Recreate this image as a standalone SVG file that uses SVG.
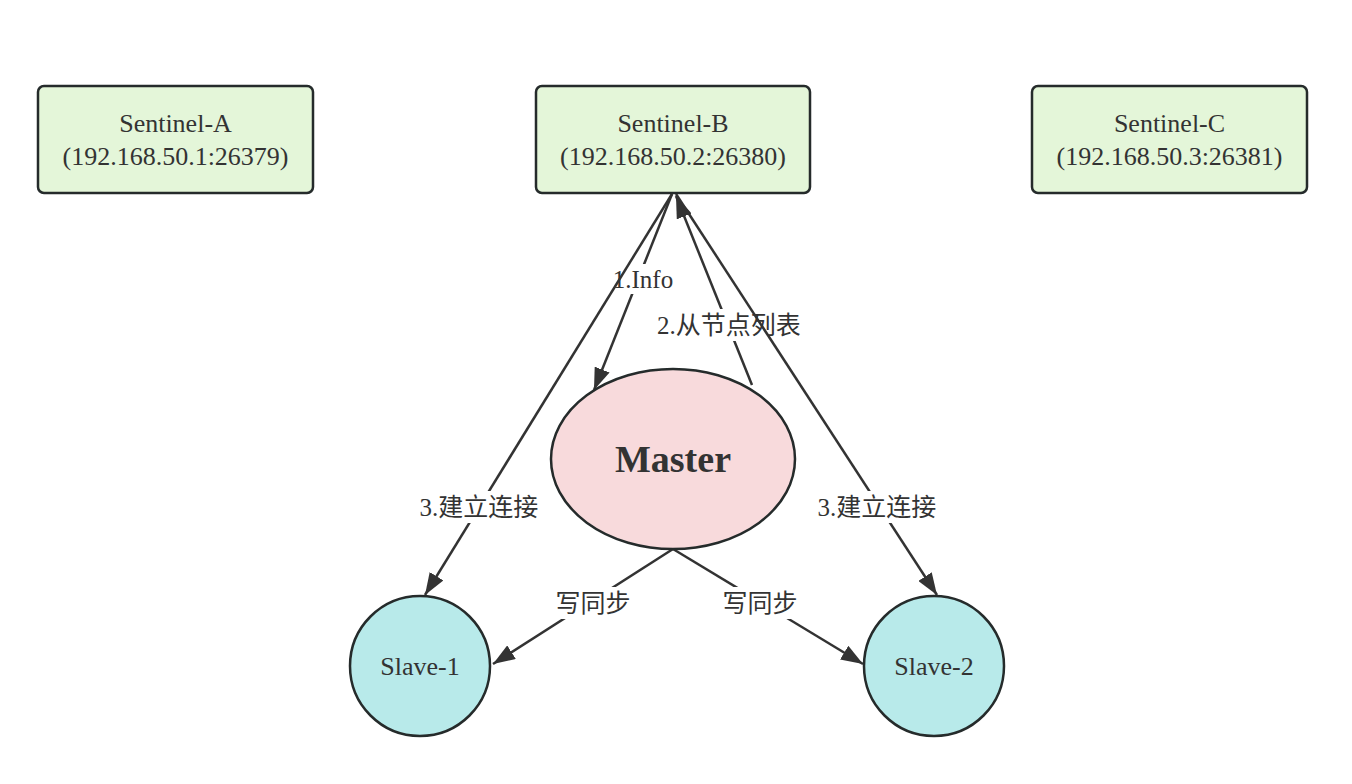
<svg xmlns="http://www.w3.org/2000/svg" width="1352" height="784" viewBox="0 0 1352 784">
<style>
.box{fill:#e4f6d9;stroke:#252b2b;stroke-width:2.5}
.master{fill:#f8dadc;stroke:#252b2b;stroke-width:2.5}
.slave{fill:#b8eaea;stroke:#252b2b;stroke-width:2.5}
.t{font-family:"Liberation Serif","Noto Sans CJK SC",serif;font-size:26px;fill:#333;text-anchor:middle}
.mt{font-family:"Liberation Serif",serif;font-size:38px;font-weight:bold;fill:#333;text-anchor:middle}
.e{stroke:#333;stroke-width:2.5;fill:none;marker-end:url(#arr)}
.lb{fill:#fff}
.lt{font-family:"Liberation Serif","Noto Sans CJK SC",serif;font-size:25px;fill:#333;text-anchor:middle}
</style>
<defs>
<marker id="arr" markerUnits="userSpaceOnUse" markerWidth="22" markerHeight="16" refX="22" refY="8" orient="auto">
<path d="M0,0 L22,8 L0,16 z" fill="#333"/>
</marker>
</defs>
<rect width="1352" height="784" fill="#fff"/>
<g id="connectors">
<g id="e1">
<line class="e" x1="672" y1="194" x2="594" y2="390"/>
<rect class="lb" x="612" y="264" width="62" height="30"/>
<text class="lt" x="643" y="288">1.Info</text>
</g>
<g id="e2">
<line class="e" x1="752" y1="385" x2="676" y2="196"/>
<rect class="lb" x="654" y="309" width="150" height="32"/>
<text class="lt" x="729" y="334">2.从节点列表</text>
</g>
<g id="e3">
<line class="e" x1="672" y1="194" x2="425" y2="595"/>
<rect class="lb" x="416" y="491" width="126" height="32"/>
<text class="lt" x="479" y="516">3.建立连接</text>
</g>
<g id="e4">
<line class="e" x1="676" y1="194" x2="937" y2="595"/>
<rect class="lb" x="814" y="491" width="126" height="32"/>
<text class="lt" x="877" y="516">3.建立连接</text>
</g>
<g id="e5">
<line class="e" x1="673" y1="549" x2="493" y2="664"/>
<rect class="lb" x="554" y="587" width="78" height="32"/>
<text class="lt" x="593" y="612">写同步</text>
</g>
<g id="e6">
<line class="e" x1="673" y1="549" x2="863" y2="664"/>
<rect class="lb" x="721" y="587" width="78" height="32"/>
<text class="lt" x="760" y="612">写同步</text>
</g>
</g>
<g id="sentinelA">
<rect class="box" x="38" y="86" width="275" height="107" rx="6"/>
<text class="t" x="175.5" y="132">Sentinel-A</text>
<text class="t" x="175.5" y="165">(192.168.50.1:26379)</text>
</g>
<g id="sentinelB">
<rect class="box" x="536" y="86" width="274" height="107" rx="6"/>
<text class="t" x="673" y="132">Sentinel-B</text>
<text class="t" x="673" y="165">(192.168.50.2:26380)</text>
</g>
<g id="sentinelC">
<rect class="box" x="1032" y="86" width="275" height="107" rx="6"/>
<text class="t" x="1169.5" y="132">Sentinel-C</text>
<text class="t" x="1169.5" y="165">(192.168.50.3:26381)</text>
</g>
<g id="master">
<ellipse class="master" cx="673" cy="459" rx="122" ry="90"/>
<text class="mt" x="673" y="472">Master</text>
</g>
<g id="slave1">
<circle class="slave" cx="420" cy="666" r="70"/>
<text class="t" x="420" y="675">Slave-1</text>
</g>
<g id="slave2">
<circle class="slave" cx="934" cy="666" r="70"/>
<text class="t" x="934" y="675">Slave-2</text>
</g>
</svg>
